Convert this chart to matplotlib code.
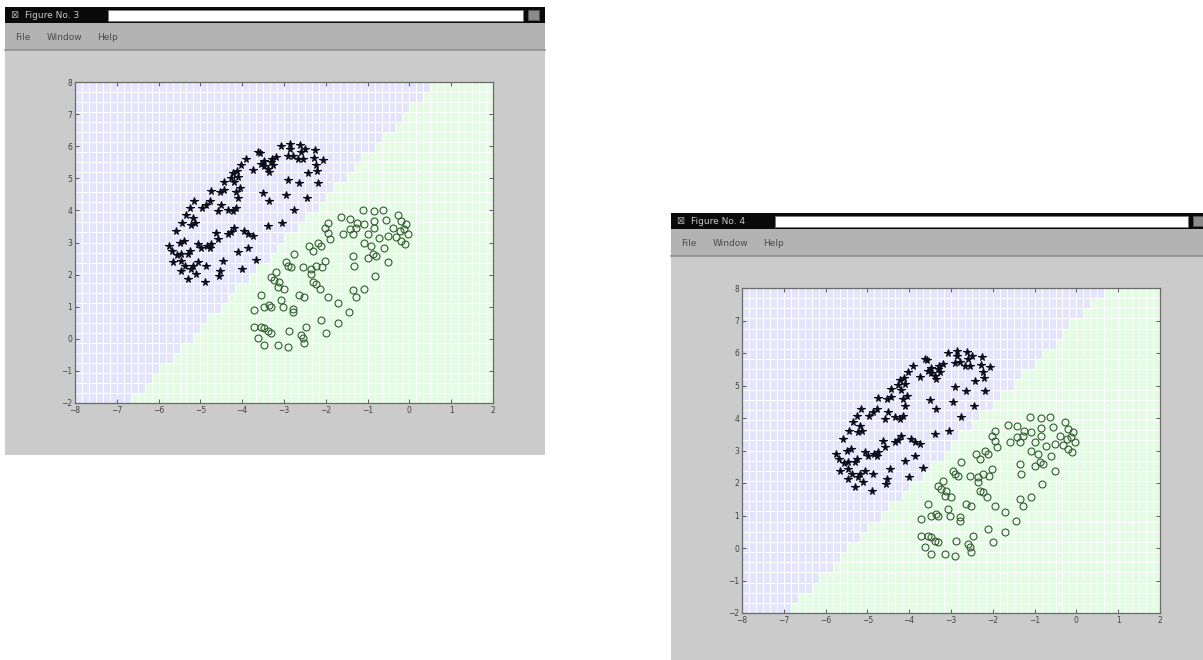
import numpy as np
import matplotlib.pyplot as plt
from matplotlib.patches import Rectangle
from matplotlib.colors import ListedColormap

# ---------------- data ----------------
star_x = [-3.62, -3.57, -3.07, -2.85, -2.62, -2.85, -2.79, -2.59, -2.50, -2.27,
          -2.07, -2.29, -2.23, -2.21, -2.18, -2.43, -2.55, -2.67, -2.91, -3.19,
          -3.29, -3.31, -3.27, -3.47, -3.48, -3.39, -3.37, -3.55, -3.75, -3.92,
          -4.03, -4.12, -4.09, -4.23, -4.27, -4.43, -4.20, -4.05, -4.15, -4.43,
          -4.52, -4.74, -4.09, -4.15, -4.23, -4.35, -4.51, -4.57, -4.78, -4.86,
          -4.97, -5.16, -5.26, -5.34, -5.18, -5.22, -5.12, -5.44, -5.58, -5.40,
          -5.48, -5.69, -5.57, -5.46, -5.30, -5.24, -5.18, -5.06, -5.06, -4.98,
          -4.84, -4.74, -4.59, -4.63, -4.76, -4.35, -4.27, -4.19, -3.95, -3.87,
          -3.75, -3.87, -4.09, -3.67, -4.01, -4.47, -4.52, -4.55, -4.86, -5.10,
          -4.89, -5.30, -5.46, -5.37, -5.22, -5.66, -5.74, -5.46, -3.51, -3.35,
          -3.39, -3.05, -2.95, -2.75, -2.91, -2.63, -2.45]
star_y = [5.82, 5.79, 6.00, 6.07, 6.04, 5.90, 5.71, 5.82, 5.90, 5.87,
          5.56, 5.63, 5.41, 5.22, 4.84, 5.15, 5.61, 5.61, 5.69, 5.66,
          5.61, 5.51, 5.41, 5.53, 5.38, 5.30, 5.20, 5.46, 5.25, 5.61,
          5.41, 5.22, 5.05, 5.17, 5.02, 4.89, 4.87, 4.69, 4.58, 4.64,
          4.58, 4.61, 4.38, 4.07, 3.97, 4.02, 4.17, 3.97, 4.28, 4.17,
          4.07, 4.28, 4.07, 3.87, 3.76, 3.56, 3.61, 3.61, 3.35, 3.05,
          2.99, 2.74, 2.62, 2.64, 2.64, 2.74, 2.28, 2.38, 2.94, 2.84,
          2.89, 2.94, 3.10, 3.30, 2.84, 3.25, 3.33, 3.46, 3.35, 3.25,
          3.20, 2.84, 2.69, 2.45, 2.17, 2.43, 2.12, 1.97, 2.28, 2.02,
          1.76, 1.87, 2.12, 2.28, 2.17, 2.38, 2.89, 2.43, 4.55, 4.28,
          3.51, 3.61, 4.48, 4.02, 4.94, 4.84, 4.38]

circ_x = [-1.63, -1.42, -1.12, -0.85, -0.64, -0.57, -0.28, -0.20, -0.08, -0.12,
          -0.22, -0.04, -0.32, -0.20, -0.10, -0.40, -0.52, -0.84, -0.85, -1.08,
          -1.25, -1.28, -1.36, -1.41, -1.09, -0.92, -0.88, -1.00, -0.80, -0.52,
          -0.82, -1.95, -2.03, -1.95, -1.91, -2.19, -2.11, -2.39, -2.31, -2.03,
          -2.09, -2.23, -2.35, -2.55, -2.75, -2.95, -2.91, -2.83, -3.19, -3.31,
          -3.23, -3.11, -3.15, -2.99, -3.07, -3.35, -3.55, -3.71, -3.47, -3.31,
          -3.03, -2.79, -2.79, -2.63, -2.51, -2.31, -2.23, -2.15, -1.95, -1.71,
          -1.44, -1.36, -1.28, -1.08, -1.36, -1.32, -3.71, -3.55, -3.47, -3.39,
          -3.31, -3.63, -3.47, -3.15, -2.91, -2.87, -2.59, -2.55, -2.51, -2.47,
          -2.11, -1.99, -1.71, -2.35, -1.59, -1.00, -0.60, -0.72]
circ_y = [3.78, 3.74, 4.02, 3.99, 4.02, 3.71, 3.87, 3.66, 3.58, 3.41,
          3.35, 3.25, 3.17, 3.05, 2.96, 3.46, 3.20, 3.68, 3.46, 3.58,
          3.61, 3.46, 3.25, 3.41, 2.99, 2.89, 2.64, 2.53, 2.58, 2.38,
          1.97, 3.61, 3.46, 3.30, 3.10, 2.99, 2.89, 2.89, 2.74, 2.43,
          2.23, 2.28, 2.17, 2.23, 2.64, 2.38, 2.28, 2.23, 2.07, 1.92,
          1.82, 1.76, 1.61, 1.56, 1.20, 1.05, 1.35, 0.89, 0.99, 0.99,
          0.99, 0.94, 0.84, 1.35, 1.30, 1.76, 1.71, 1.56, 1.30, 1.10,
          0.84, 1.51, 1.30, 1.56, 2.58, 2.28, 0.38, 0.38, 0.33, 0.23,
          0.17, 0.02, -0.18, -0.18, -0.24, 0.23, 0.12, 0.02, -0.13, 0.38,
          0.58, 0.17, 0.48, 2.02, 3.25, 3.25, 2.84, 3.15]

# decision boundary end points (x at y=-2, x at y=8) for each window
boundary_fig3 = [(-6.75, -2.0), (0.65, 8.0)]
boundary_fig4 = [(-7.0, -2.0), (0.75, 8.0)]

xticks = [-8, -7, -6, -5, -4, -3, -2, -1, 0, 1, 2]
yticks = [-2, -1, 0, 1, 2, 3, 4, 5, 6, 7, 8]

# ---------------- figure ----------------
W, H = 1203, 660
fig = plt.figure(figsize=(W / 100, H / 100), dpi=100, facecolor='white')
bg = fig.add_axes([0, 0, 1, 1])
bg.set_xlim(0, W)
bg.set_ylim(H, 0)
bg.axis('off')


def draw_window(x0, y0, x1, y1, title, box_x0, box_x1):
    # figure area
    bg.add_patch(Rectangle((x0, y0), x1 - x0, y1 - y0, color='#cbcbcb', lw=0))
    # title bar
    bg.add_patch(Rectangle((x0, y0), x1 - x0, 16, color='#0a0a0a', lw=0))
    bg.add_patch(Rectangle((box_x0, y0 + 2.5), box_x1 - box_x0, 11, facecolor='white',
                           edgecolor='#777777', lw=0.6))
    bg.add_patch(Rectangle((box_x1 + 5, y0 + 3), 11, 10, facecolor='#8a8a8a',
                           edgecolor='#555555', lw=0.6))
    bg.text(x0 + 5, y0 + 8.5, '\u22a0', color='#aaaaaa', fontsize=7, va='center')
    bg.text(x0 + 20, y0 + 8.5, title, color='#c8c8c8', fontsize=6.5, va='center')
    # menu bar
    bg.add_patch(Rectangle((x0, y0 + 16), x1 - x0, 27, color='#b3b3b3', lw=0))
    bg.plot([x0, x1], [y0 + 43, y0 + 43], color='#8f8f8f', lw=1.2)
    for lbl, dx in [('File', 10), ('Window', 42), ('Help', 92)]:
        bg.text(x0 + dx, y0 + 30, lbl, color='#4a4a4a', fontsize=6.5, va='center')


draw_window(5, 7, 545, 455, 'Figure No. 3', 108, 523)
draw_window(671, 213, 1210, 660, 'Figure No. 4', 775, 1188)

cmap = ListedColormap(['#e4e4fc', '#e4fce4'])
xe = np.linspace(-8, 2, 61)
ye = np.linspace(-2, 8, 33)
xc = (xe[:-1] + xe[1:]) / 2
yc = (ye[:-1] + ye[1:]) / 2
XC, YC = np.meshgrid(xc, yc)


def draw_axes(rect, boundary):
    ax = fig.add_axes(rect)
    (bx0, by0), (bx1, by1) = boundary
    xb = bx0 + (YC - by0) * (bx1 - bx0) / (by1 - by0)
    cls = (XC > xb).astype(float)
    ax.pcolormesh(xe, ye, cls, cmap=cmap, vmin=0, vmax=1,
                  edgecolors='white', linewidth=0.6)
    ax.plot(star_x, star_y, '*', color='#0d0d1a', markersize=5.5, mew=0.8)
    ax.plot(circ_x, circ_y, 'o', mfc='none', mec='#345a34', markersize=5, mew=0.8)
    ax.set_xlim(-8, 2)
    ax.set_ylim(-2, 8)
    ax.set_xticks(xticks)
    ax.set_yticks(yticks)
    ax.tick_params(direction='in', top=True, right=True, length=3, width=0.6,
                   labelsize=5.5, colors='#444444', pad=2)
    for s in ax.spines.values():
        s.set_color('#6a6a6a')
        s.set_linewidth(0.9)
    return ax


draw_axes([75 / W, 1 - 403 / H, 418 / W, 321 / H], boundary_fig3)
draw_axes([742 / W, 1 - 613 / H, 418 / W, 325 / H], boundary_fig4)

fig.savefig('out.png', dpi=100, facecolor='white')
